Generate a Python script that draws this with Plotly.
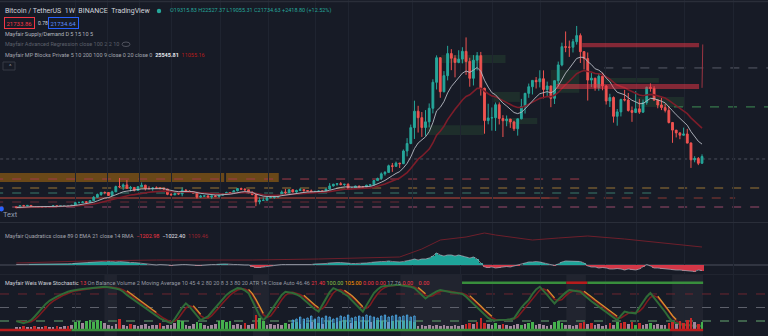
import pandas as pd
import plotly.graph_objects as go

W, H = 768, 336
FONT = "Roboto, Liberation Sans, Arial"
BG = "#171b26"

weeks = pd.date_range("2018-12-10", periods=187, freq="7D")

# ---------------- weekly BTC/USDT candles (USDT thousands) ----------------
open_k = [
    3.55, 3.25, 3.95, 3.85,
    4.05, 3.55, 3.55, 3.53, 3.41, 3.66, 3.62, 3.85, 3.83, 3.92, 3.98, 3.99, 4.10, 5.05, 5.07, 5.30, 5.20, 5.75, 6.99, 8.00, 8.74, 8.72,
    7.65, 8.96, 10.85, 10.82, 11.48, 10.20, 10.55, 9.50, 10.80, 11.38, 10.20, 10.15, 10.35, 10.30, 10.28, 10.00, 8.05, 7.85, 8.30, 8.22,
    9.55, 9.20, 9.05, 8.50, 7.05, 7.40, 7.50, 7.08, 7.50, 7.30,
    7.75, 8.18, 8.70, 8.60, 9.35, 10.15, 9.90, 9.70, 8.55, 8.00, 5.35, 5.80, 5.90, 6.80, 6.90, 7.10, 7.70, 8.90, 8.70, 9.70, 8.90, 9.45,
    9.75, 9.40, 9.30, 9.00, 9.10, 9.25, 9.20, 9.95, 11.10, 11.70, 11.90, 11.65, 11.70, 10.25, 10.33, 11.08, 10.75, 10.66, 11.38, 11.50,
    13.03, 13.80, 15.48, 16.00, 18.40, 18.19, 19.35, 19.15, 23.75, 26.45,
    32.20, 38.15, 35.80, 32.25, 34.30, 39.20, 48.60, 57.50, 45.20, 51.00, 59.00, 57.30, 55.80, 57.00, 59.80, 56.15, 50.05, 56.60, 58.25,
    46.45, 34.75, 35.70, 35.80, 40.50, 35.50, 34.70, 35.30, 34.25, 31.80, 35.40, 39.85, 44.60, 47.00, 49.30, 48.80, 49.90, 46.00, 47.30,
    42.80, 49.20, 54.90, 61.50, 61.30, 61.30, 63.30, 65.50, 59.70, 57.20, 49.40, 50.10, 46.70, 50.80,
    47.30, 41.85, 43.10, 36.30, 37.90, 42.40, 42.20, 38.40, 37.70, 39.00, 37.80, 41.30, 46.80, 46.40, 42.15, 40.40, 39.45, 38.45, 34.05,
    31.30, 30.30, 29.45, 29.90, 26.60, 20.55, 21.05, 19.32,
]
high_k = [
    3.60, 4.20, 4.25, 4.10,
    4.10, 3.75, 3.65, 3.56, 3.70, 3.70, 4.20, 3.90, 3.93, 4.05, 4.10, 4.12, 5.35, 5.47, 5.60, 5.63, 5.85, 7.45, 8.35, 8.95, 9.09, 8.80,
    9.40, 11.20, 13.97, 12.00, 13.20, 11.10, 10.70, 11.08, 12.33, 11.50, 10.95, 10.65, 10.95, 10.50, 10.40, 10.05, 8.50, 8.85, 8.40, 10.55,
    9.94, 9.50, 9.10, 8.55, 7.85, 7.65, 7.60, 7.55, 7.70, 7.80,
    8.45, 9.00, 8.75, 9.60, 10.15, 10.50, 10.30, 9.70, 9.20, 8.15, 6.95, 6.95, 7.20, 7.45, 7.30, 7.80, 9.45, 10.05, 9.95, 9.90, 9.75, 10.40,
    9.99, 9.60, 9.80, 9.35, 9.45, 9.35, 10.10, 12.10, 11.90, 12.10, 12.48, 11.80, 12.05, 10.60, 11.15, 11.10, 10.95, 11.50, 11.72, 13.25,
    14.10, 16.00, 16.48, 18.80, 19.42, 19.92, 19.45, 24.30, 28.40, 33.30,
    41.95, 40.10, 37.85, 38.55, 40.95, 49.70, 58.35, 57.55, 52.65, 61.80, 60.60, 58.40, 60.20, 61.30, 64.85, 57.50, 58.45, 59.55, 59.60,
    46.65, 40.85, 39.50, 41.30, 41.35, 36.70, 36.60, 35.30, 34.70, 35.40, 42.60, 44.80, 48.15, 49.40, 50.50, 52.95, 52.92, 48.85, 47.30,
    49.25, 56.10, 62.95, 67.00, 63.70, 64.30, 69.00, 66.30, 59.85, 59.40, 51.95, 50.15, 51.90, 52.10,
    47.55, 44.45, 43.50, 38.95, 42.65, 45.85, 44.75, 39.85, 45.40, 42.60, 42.35, 47.00, 48.20, 47.20, 42.45, 42.98, 40.80, 40.00, 34.25,
    31.30, 30.50, 32.20, 31.75, 26.90, 21.85, 21.55, 22.53,
]
low_k = [
    3.15, 3.25, 3.55, 3.65,
    3.50, 3.50, 3.45, 3.35, 3.37, 3.57, 3.62, 3.70, 3.68, 3.85, 3.90, 3.93, 4.10, 4.95, 5.00, 5.05, 5.15, 5.70, 6.90, 7.50, 8.10, 7.45,
    7.60, 8.90, 10.30, 9.65, 10.10, 9.10, 9.10, 9.35, 10.80, 9.45, 9.75, 9.35, 10.05, 9.85, 9.60, 7.75, 7.70, 7.85, 7.90, 7.35,
    8.80, 8.70, 8.40, 6.50, 6.85, 7.10, 7.05, 6.43, 7.05, 6.85,
    7.70, 8.10, 8.25, 8.55, 9.15, 9.70, 9.30, 8.40, 7.70, 3.78, 4.45, 5.70, 5.85, 6.75, 6.45, 6.80, 7.65, 8.10, 8.20, 8.80, 8.65, 9.35,
    9.00, 9.20, 8.90, 8.90, 9.05, 9.00, 9.10, 9.90, 10.90, 11.15, 11.30, 11.10, 9.90, 9.85, 10.25, 10.14, 10.40, 10.55, 11.22, 11.40,
    12.95, 13.25, 14.83, 15.80, 16.20, 18.10, 17.60, 19.00, 21.80, 26.20,
    28.10, 30.42, 28.85, 29.25, 32.30, 37.35, 46.00, 43.00, 44.95, 49.30, 53.00, 50.40, 55.50, 55.45, 51.30, 47.00, 47.45, 52.90, 43.80,
    30.00, 33.40, 31.10, 31.00, 33.35, 28.80, 32.70, 32.10, 31.00, 29.30, 35.20, 37.30, 43.00, 44.20, 46.35, 46.75, 42.80, 43.40, 39.60,
    40.75, 47.10, 54.40, 59.50, 57.80, 59.40, 62.25, 55.60, 53.25, 42.00, 46.85, 45.55, 45.55, 45.70,
    40.55, 39.65, 34.00, 32.90, 36.25, 41.70, 38.00, 34.30, 37.45, 37.15, 37.55, 40.50, 45.20, 42.10, 39.20, 38.55, 37.70, 33.70, 26.70,
    28.65, 28.00, 29.30, 26.55, 17.62, 19.65, 18.63, 19.06,
]
close_k = [
    3.25, 3.95, 3.85, 4.05,
    3.55, 3.55, 3.53, 3.41, 3.66, 3.62, 3.85, 3.83, 3.92, 3.98, 3.99, 4.10, 5.05, 5.07, 5.30, 5.20, 5.75, 6.99, 8.00, 8.74, 8.72, 7.65,
    8.96, 10.85, 10.82, 11.48, 10.20, 10.55, 9.50, 10.80, 11.38, 10.20, 10.15, 10.35, 10.30, 10.28, 10.00, 8.05, 7.85, 8.30, 8.22, 9.55,
    9.20, 9.05, 8.50, 7.05, 7.40, 7.50, 7.08, 7.50, 7.30, 7.75,
    8.18, 8.70, 8.60, 9.35, 10.15, 9.90, 9.70, 8.55, 8.00, 5.35, 5.80, 5.90, 6.80, 6.90, 7.10, 7.70, 8.90, 8.70, 9.70, 8.90, 9.45, 9.75,
    9.40, 9.30, 9.00, 9.10, 9.25, 9.20, 9.95, 11.10, 11.70, 11.90, 11.65, 11.70, 10.25, 10.33, 11.08, 10.75, 10.66, 11.38, 11.50, 13.03,
    13.80, 15.48, 16.00, 18.40, 18.19, 19.35, 19.15, 23.75, 26.45, 32.20,
    38.15, 35.80, 32.25, 34.30, 39.20, 48.60, 57.50, 45.20, 51.00, 59.00, 57.30, 55.80, 57.00, 59.80, 56.15, 50.05, 56.60, 58.25, 46.45,
    34.75, 35.70, 35.80, 40.50, 35.50, 34.70, 35.30, 34.25, 31.80, 35.40, 39.85, 44.60, 47.00, 49.30, 48.80, 49.90, 46.00, 47.30, 42.80,
    49.20, 54.90, 61.50, 61.30, 61.30, 63.30, 65.50, 59.70, 57.20, 49.40, 50.10, 46.70, 50.80, 47.30,
    41.85, 43.10, 36.30, 37.90, 42.40, 42.20, 38.40, 37.70, 39.00, 37.80, 41.30, 46.80, 46.40, 42.15, 40.40, 39.45, 38.45, 34.05, 31.30,
    30.30, 29.45, 29.90, 26.60, 20.55, 21.05, 19.30, 21.73,
]

# ---------------- Quadratics pane (histogram) ----------------
quad_hist = [
    0.5, 0.5, 0.5, 0.5, 0.6, 0.6, 0.7, 0.8, 0.8, 0.9, 1, 1, 1, 1.2, 1.2, 1.4, 1.6, 1.8, 2,
    2.5, 3, 3, 3.5, 3, 3.5, 4, 3.5, 3, 3.5, 3, 3, 2.5, 2.5, 2, 1.5,
    1, 0.5, 0.5, 0, 0.5, 0.5, 0, -0.5, 0, 0, 0.5, 0.5, 0, 0, -0.5, -0.5, 0, 0, 0.5, 0.5, 1, 1, 1, 0.5, 0.5, 0.5, 0, 0, 0,
    -1.5, -2.5, -2.5, -2, -1,
    -0.5, 0, 0, 0.5, 0.5, 0.5, 0.5, 0, 0, 0.5, 0.5, 0.5,
    1, 1, 1.5, 1.5, 2, 2.5, 2.5, 2.5, 2, 2, 1.5, 1.5, 1.5, 2, 2, 2.5,
    3, 3, 3.5, 3.5, 4, 3.5, 3, 3,
    3.5, 4, 5, 6, 5, 6, 6, 7, 9, 12, 10, 9, 10, 10, 9, 10, 9, 8, 7, 8, 6, 2,
    -2, -2.5, -2, -3, -2.5, -2, -1.5, -2, -1, -0.5, 0.5,
    2, 3, 3, 3.5, 3, 2,
    1, 0, -0.5, 1,
    3, 4, 4, 4, 4, 3.5, 2,
    -1, -2, -2, -3, -2.5, -3, -4, -4, -3.5, -4, -5, -4, -4.5, -5, -4, -2, 0.5, -1, -3, -3, -3.5, -4, -4, -4.5,
    -5, -5, -5.5, -6, -6, -6.5, -5, -5.5,
]
quad_line_week = [0, 19, 38, 64, 82, 96, 104, 110, 115, 122, 127, 130, 140, 147, 155, 165, 173, 182, 186]
quad_line_val = [2, 4, 5, 5, 6, 7, 8, 16, 25, 28, 32, 30, 25, 27, 29, 26, 23, 20, 18]

# ---------------- Weis wave stochastic pane ----------------
stoch_k = [
    20, 18, 15, 18, 22,
    30, 40, 50, 58, 65, 70, 74, 78, 82, 85, 87, 89,
    90, 91, 92, 93, 94, 95, 95, 96,
    95, 94, 92, 90,
    85, 78, 72, 66, 60,
    54, 48, 42, 36, 30, 26, 22, 18, 15,
    25, 38, 50, 59,
    52, 42, 32, 22,
    26, 30,
    40, 50, 60, 70, 78, 84, 89, 93,
    92, 88, 82,
    65, 48, 32, 22,
    30, 42, 55, 68, 78, 85,
    84, 82, 79, 75,
    68, 60, 52, 46, 41,
    55, 70, 84, 93,
    90, 86, 80, 75,
    66, 57, 48, 41,
    55, 70, 82, 90, 96,
    98, 99, 100, 100, 100, 99, 98, 96, 93,
    85, 77, 70,
    76, 82, 86, 89,
    87, 85, 84, 83, 82, 80,
    74, 66, 59,
    50, 42, 34, 27, 22,
    21, 22, 22, 23, 24, 26,
    38, 50, 59, 67,
    80, 90, 96,
    88, 78, 68, 59,
    68, 76, 83, 89,
    88, 87, 85,
    78, 70, 64, 58, 52,
    46, 40, 33, 27, 22,
    32, 41, 39, 38, 37,
    50, 62, 74, 82,
    72, 62, 52,
    40, 28, 18,
    15, 13, 11, 11, 10, 9, 8, 10,
]
wave_height = [
    2, 2, 3, 2,
    2, 3, 2, 2, 3, 2, 2, 3, 2, 3, 3, 4,
    7, 8, 6, 8, 9, 7, 9, 8, 6,
    4, 3, 5,
    10,
    4, 3, 5, 4, 3, 4, 5, 3, 4, 4, 6, 3, 4, 4,
    6, 9, 8,
    4, 3, 5, 7, 6, 4, 3, 4, 5,
    8, 9, 7, 8,
    4, 5, 4, 6, 4, 5,
    14,
    11, 8,
    4, 5, 4, 5, 4, 6, 5,
    6, 7, 5, 8, 6, 7, 9, 6, 5, 7, 8, 6, 7, 8, 9, 7, 6, 8, 7, 9, 8, 7, 8, 9, 8, 9, 7, 8, 9, 8,
    8, 9, 8, 7,
    3, 4, 3, 4, 3, 4, 3, 4, 3, 3, 4, 3, 4,
    5, 6, 5, 7, 11, 6, 5,
    4, 6, 4, 5, 4, 3, 4,
    5, 4, 5, 6, 7, 4, 5, 4, 3, 4,
    7, 8, 6, 4,
    4, 3, 4,
    6, 7, 5, 6,
    4, 5, 3, 4, 6, 4,
    7,
    6, 7, 5, 7, 4, 6,
    4, 5, 6, 4, 5, 4, 4,
    6, 7, 5, 8, 6, 9, 11, 7, 5,
    7,
]
wave_state = ("pprp" + "prpprpprpprp" + "ggpgggggp" + "ppp" + "r" + "pprppppppprppp" + "pgg" + "pppggpppp"
              + "gggg" + "ppprpp" + "r" + "gg" + "pppppgp" + "ggpggpggpgggpgggpggggpggggpggg" + "gggg"
              + "ppppppppppppp" + "rrprrrp" + "pgprppp" + "pgpggppppp" + "gggp" + "ppp" + "rrpr" + "pppprp"
              + "g" + "rrprgr" + "ppgpppp" + "rrprrrrpr" + "g")
obv_first_week = 75
obv_height = [9, 10, 12, 10, 11, 13, 10, 12, 11, 13, 12, 10, 11, 13, 12, 14, 11, 12, 13, 12,
              14, 13, 12, 11, 13, 14, 12, 13, 14, 12, 13, 14, 12, 13]
top_bar_segments = [(120.9, 149.2, "g"), (149.2, 154.9, "r"), (154.9, 186.3, "g")]
bottom_line_segments = [(-6, 15.0, "r"), (15.0, 177.3, "g"), (177.3, 186.3, "r")]
stoch_levels = [80, 50, 20]
top_bar_level = 105
bottom_level = 0

# ---------------- price-pane zones / levels (USDT thousands, week indices) ----------------
orange_zones = [(-6, 56.4, 12.5, 15.8), (56.9, 71.2, 12.5, 15.8)]
red_zones = [(153.5, 185.2, 61.3, 62.8), (146.5, 185.2, 46.2, 48.0)]
green_zones = [(115.3, 132.7, 55.6, 58.5), (129.4, 136.6, 41.5, 45.1), (111.4, 126.8, 29.5, 33.1),
               (132.7, 141.3, 33.5, 35.7), (145.0, 152.7, 44.8, 53.1), (159.5, 174.3, 48.4, 50.2),
               (168.3, 181.3, 39.7, 43.3)]
level_price = [20.85, 13.6, 10.35, 8.54, 6.73, 6.73, 5.28, 3.47, 53.8, 39.7]
level_span = [(-6, 204), (-6, 154), (-6, 204), (-6, 174.3), (-6, 144.7), (144.7, 195), (-6, 104),
              (-6, 204), (159.5, 204), (178.4, 204)]
level_style = [("#4a4f5c", "dot", 1), ("#a33b4b", "dash", 1), ("#9c7634", "dash", 1), ("#3b7a6c", "dash", 1),
               ("#8b3a33", "solid", 1.6), ("#8b3a33", "dash", 1), ("#6b2a35", "dash", 1), ("#9b4a6a", "dash", 1),
               ("#585c68", "dash", 1), ("#3f8f55", "dash", 1)]
grid_dates = ["2019-04-01", "2019-06-01", "2019-08-01", "2019-10-01", "2020-01-01", "2020-04-01", "2020-07-01",
              "2020-09-01", "2021-01-01", "2021-04-01", "2021-06-01", "2021-09-01", "2022-01-01", "2022-03-01",
              "2022-06-01", "2022-09-01"]

header_ohlc = "O19315.83 H22527.37 L19055.31 C21734.63 +2418.80 (+12.52%)"
bid, spread, ask = "21733.86", "0.78", "21734.64"

# ======================================================================
def wk(i):
    return weeks[0] + pd.Timedelta(days=7 * i)

ema_fast = pd.Series(close_k).ewm(span=10, adjust=False).mean()
ema_slow = pd.Series(close_k).ewm(span=21, adjust=False).mean()
k_ser = pd.Series(stoch_k, dtype=float)
d_ser = k_ser.rolling(3, min_periods=1).mean()
orange = [dv + 3 if dv - kv > 5 else None for kv, dv in zip(k_ser, d_ser)]

fig = go.Figure()
fig.add_trace(go.Candlestick(
    x=weeks, open=open_k, high=high_k, low=low_k, close=close_k,
    increasing=dict(line=dict(color="#26a69a", width=1), fillcolor="#26a69a"),
    decreasing=dict(line=dict(color="#ef5350", width=1), fillcolor="#ef5350"),
    whiskerwidth=0, showlegend=False, xaxis="x", yaxis="y"))
fig.add_trace(go.Scatter(x=weeks, y=ema_slow, mode="lines", line=dict(color="#7d1d2a", width=1.6),
                         yaxis="y", showlegend=False))
fig.add_trace(go.Scatter(x=weeks, y=ema_fast, mode="lines", line=dict(color="#b8bbc4", width=0.9),
                         yaxis="y", showlegend=False))

qcols = ["#1fb3a6" if v > 0 else "#e8394a" for v in quad_hist]
fig.add_trace(go.Bar(x=weeks, y=quad_hist, marker=dict(color=qcols, line=dict(width=0)),
                     width=7 * 86400000, yaxis="y2", showlegend=False, opacity=0.9))
fig.add_trace(go.Scatter(x=weeks, y=quad_hist, mode="lines", line=dict(color="#9aa0ab", width=0.8),
                         yaxis="y2", showlegend=False))
fig.add_trace(go.Scatter(x=[weeks[i] for i in quad_line_week], y=quad_line_val, mode="lines",
                         line=dict(color="#6e1f2b", width=1), yaxis="y2", showlegend=False))

wcol = {"g": "#45b04d", "r": "#c62828", "p": "#a1879c"}
fig.add_trace(go.Bar(x=weeks, y=wave_height, marker=dict(color=[wcol[s] for s in wave_state], line=dict(width=0)),
                     width=5 * 86400000, yaxis="y4", showlegend=False))
fig.add_trace(go.Bar(x=weeks[obv_first_week:obv_first_week + len(obv_height)], y=obv_height,
                     marker=dict(color="rgba(0,0,0,0)", line=dict(color="#4aa3df", width=1)),
                     width=2.5 * 86400000, yaxis="y4", showlegend=False))
fig.add_trace(go.Scatter(x=weeks, y=d_ser, mode="lines", line=dict(color="#7f1b20", width=1.6),
                         yaxis="y3", showlegend=False))
fig.add_trace(go.Scatter(x=weeks, y=k_ser, mode="lines", line=dict(color="#2f6b37", width=2),
                         yaxis="y3", showlegend=False))
fig.add_trace(go.Scatter(x=weeks, y=orange, mode="lines", line=dict(color="#d9902e", width=1.3),
                         yaxis="y3", showlegend=False, connectgaps=False))

shapes = []
# stochastic pane shaded columns
for a, b in [(23.9, 27.3), (64.2, 68.6), (104.2, 120.9), (149.2, 154.5), (177.9, 186.3)]:
    shapes.append(dict(type="rect", xref="x", yref="paper", x0=wk(a), x1=wk(b), y0=0, y1=62 / H,
                       fillcolor="rgba(255,255,255,0.045)", line=dict(width=0), layer="below"))
for a, b, p0, p1 in orange_zones:
    shapes.append(dict(type="rect", xref="x", yref="y", x0=wk(a), x1=wk(b), y0=p0, y1=p1,
                       fillcolor="rgba(255,152,0,0.36)", line=dict(width=0), layer="below"))
for a, b, p0, p1 in green_zones:
    shapes.append(dict(type="rect", xref="x", yref="y", x0=wk(a), x1=wk(b), y0=p0, y1=p1,
                       fillcolor="rgba(76,175,80,0.13)", line=dict(width=0), layer="below"))
for a, b, p0, p1 in red_zones:
    shapes.append(dict(type="rect", xref="x", yref="y", x0=wk(a), x1=wk(b), y0=p0, y1=p1,
                       fillcolor="rgba(242,54,69,0.5)", line=dict(width=0), layer="above"))
shapes.append(dict(type="line", xref="x", yref="y", x0=wk(186.2), x1=wk(186.0), y0=62.3, y1=46.6,
                   line=dict(color="#9c3442", width=1)))
for p, (a, b), (col, dash, lw) in zip(level_price, level_span, level_style):
    shapes.append(dict(type="line", xref="x", yref="y", x0=wk(a), x1=wk(b), y0=p, y1=p,
                       line=dict(color=col, width=lw, dash=dash), layer="below"))
# quadratics zero line
shapes.append(dict(type="line", xref="paper", yref="y2", x0=0, x1=1, y0=0, y1=0,
                   line=dict(color="#4d515d", width=1), layer="below"))
# stochastic levels
for lv, col, dash, lw in zip(stoch_levels, ["#6b2630", "#5d606b", "#4c7a58"], ["dash", "dash", "dash"], [1, 1, 1.6]):
    shapes.append(dict(type="line", xref="paper", yref="y3", x0=0, x1=1, y0=lv, y1=lv,
                       line=dict(color=col, width=lw, dash=dash), layer="below"))
scol = {"g": "#388e3c", "r": "#b71c1c"}
for a, b, s in top_bar_segments:
    shapes.append(dict(type="line", xref="x", yref="y3", x0=wk(a), x1=wk(b), y0=top_bar_level, y1=top_bar_level,
                       line=dict(color=scol[s], width=2.6)))
for a, b, s in bottom_line_segments:
    shapes.append(dict(type="line", xref="x", yref="y3", x0=wk(a), x1=wk(b), y0=bottom_level, y1=bottom_level,
                       line=dict(color=scol[s], width=2.4)))
# pane separators / top strip
for py, col in [(1.5, "#2a2e39"), (222.5, "#2a2e39"), (274.5, "#20242f")]:
    shapes.append(dict(type="line", xref="paper", yref="paper", x0=0, x1=1, y0=1 - py / H, y1=1 - py / H,
                       line=dict(color=col, width=1.5 if py < 5 else 1)))
# small ui bits: status dot, text marker, collapse button, eye icon
def circ(cx, cy, r, col):
    shapes.append(dict(type="circle", xref="paper", yref="paper", x0=(cx - r) / W, x1=(cx + r) / W,
                       y0=1 - (cy + r) / H, y1=1 - (cy - r) / H, fillcolor=col, line=dict(width=0)))
circ(159, 11, 2.2, "#26a69a")
circ(1.5, 209, 2.4, "#2962ff")
shapes.append(dict(type="rect", xref="paper", yref="paper", x0=3 / W, x1=15 / W, y0=1 - 70 / H, y1=1 - 62 / H,
                   fillcolor="rgba(0,0,0,0)", line=dict(color="#363a45", width=1)))
shapes.append(dict(type="circle", xref="paper", yref="paper", x0=122 / W, x1=130 / W, y0=1 - 46.5 / H,
                   y1=1 - 42 / H, fillcolor="rgba(0,0,0,0)", line=dict(color="#50535e", width=1)))

ann = []
def label(px, py, text, size=5.5, color="#b2b5be", **kw):
    ann.append(dict(x=px / W, y=1 - py / H, xref="paper", yref="paper", text=text, showarrow=False,
                    xanchor=kw.pop("xanchor", "left"), yanchor="middle",
                    font=dict(size=size, color=color, family=FONT), **kw))

sp = "&nbsp;"
label(3, 11, f"Bitcoin / TetherUS{sp*2}1W{sp*2}BINANCE{sp*2}TradingView", 7, "#d1d4dc")
label(168, 11, header_ohlc, 5.5, "#26a69a")
label(4, 23, bid, 6, "#f23645", bordercolor="#f23645", borderwidth=1, borderpad=1.5, bgcolor=BG)
label(36, 23, spread, 5, "#d1d4dc")
label(48, 23, ask, 6, "#5b8dff", bordercolor="#2962ff", borderwidth=1, borderpad=1.5, bgcolor=BG)
label(3, 34, "Mayfair Supply/Demand D 5 15 10 5", 5.5, "#b2b5be")
label(3, 44, "Mayfair Advanced Regression close 100 2 2 10", 5.5, "#5d606b")
label(3, 55, "Mayfair MP Blocks Private 5 10 200 100 9 close 0 20 close 0" + sp * 2
      + "<b><span style='color:#e6e8ee'>25545.81</span></b>" + sp * 2
      + "<span style='color:#b71c1c'>11055.16</span>", 5.5, "#a3a6af")
label(6.5, 66, "^", 6, "#9598a1")
label(1, 214, "Text", 7.5, "#8f9bb0")
label(3, 236, "Mayfair Quadratics close 89 0 EMA 21 close 14 RMA" + sp * 2
      + "<span style='color:#f23645'>−1202.98</span>" + sp * 2
      + "<span style='color:#e6e8ee'>−1022.40</span>" + sp * 2
      + "<span style='color:#9c2430'>1109.46</span>", 5.5, "#a3a6af")
label(3, 283, "<span style='color:#d1d4dc'>Mayfair Weis Wave Stochastic</span> "
      + "<span style='color:#f23645'>13</span> On Balance Volume 2 Moving Average 10 45 4 2 80 20 8 3 3 80 20 ATR 14 Close Auto 46.46"
      + sp + "<span style='color:#f23645'>21.40</span>" + sp
      + "<span style='color:#8bc34a'>100.00</span>" + sp
      + "<span style='color:#ff9800'>105.00</span>" + sp
      + "<span style='color:#f23645'>0.00</span>" + sp
      + "<span style='color:#f23645'>0.00</span>" + sp + "17.76" + sp
      + "<span style='color:#f23645'>0.00</span>" + sp * 4
      + "<span style='color:#f23645'>0.00</span>", 5.5, "#9598a1")

x_lo = weeks[0] + pd.Timedelta(days=7 * (-17 / 3.85))
x_hi = weeks[0] + pd.Timedelta(days=7 * (785 / 3.85))

fig.update_layout(
    width=W, height=H, margin=dict(l=0, r=0, t=0, b=0),
    paper_bgcolor=BG, plot_bgcolor=BG, barmode="overlay", bargap=0,
    showlegend=False, hovermode=False, shapes=shapes, annotations=ann,
    xaxis=dict(type="date", range=[x_lo, x_hi], rangeslider=dict(visible=False), showticklabels=False,
               tickvals=grid_dates, showgrid=True, gridcolor="#1f2430", gridwidth=1, zeroline=False,
               showline=False, ticks=""),
    yaxis=dict(domain=[114 / H, 1], range=[-1.954, 78.39], showticklabels=False, showgrid=False,
               zeroline=False, ticks=""),
    yaxis2=dict(domain=[62 / H, 114 / H], range=[-9, 43], showticklabels=False, showgrid=False,
                zeroline=False, ticks=""),
    yaxis3=dict(domain=[0, 62 / H], range=[-13.3, 124.4], showticklabels=False, showgrid=False,
                zeroline=False, ticks=""),
    yaxis4=dict(overlaying="y3", range=[-7, 55], showticklabels=False, showgrid=False,
                zeroline=False, ticks=""),
)
fig.write_html("out.html", config={"displayModeBar": False, "staticPlot": True})
